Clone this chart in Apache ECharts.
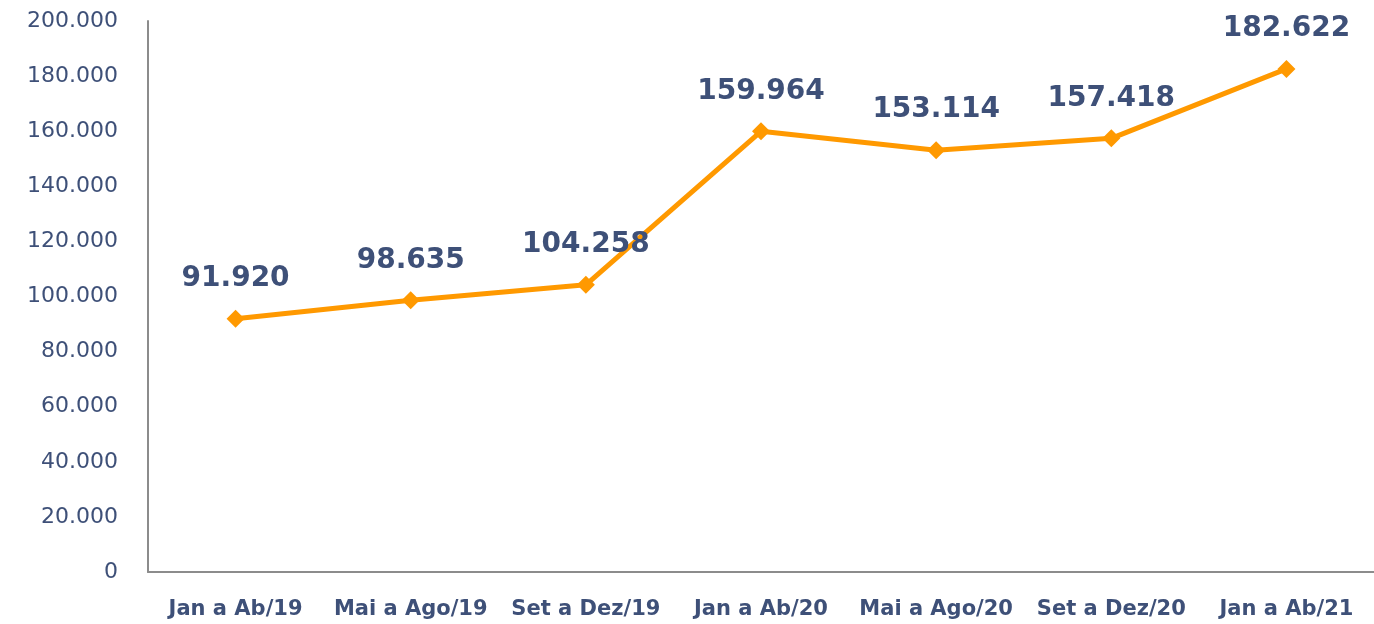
<!DOCTYPE html>
<html>
<head>
<meta charset="utf-8">
<script src="https://cdn.jsdelivr.net/npm/echarts@6/dist/echarts.min.js"></script>
<style>html,body{margin:0;padding:0;background:#fff;}#c{width:1374px;height:624px;}</style>
</head>
<body>
<div id="c"></div>
<script>
const categories = ['Jan a Ab/19','Mai a Ago/19','Set a Dez/19','Jan a Ab/20','Mai a Ago/20','Set a Dez/20','Jan a Ab/21'];
const values = [91920, 98635, 104258, 159964, 153114, 157418, 182622];
const yMin = 0, yMax = 200000, yInterval = 20000;

const fmt = v => v === 0 ? '0' : v.toLocaleString('de-DE');
const textColor = '#3E5078';
const font = 'DejaVu Sans';
const chart = echarts.init(document.getElementById('c'));
chart.setOption({
  animation: false,
  textStyle: { fontFamily: font },
  grid: { left: 148, right: 0, top: 21, bottom: 52, containLabel: false },
  xAxis: {
    type: 'category', data: categories, boundaryGap: true,
    axisLine: { lineStyle: { color: '#8C8C8C', width: 2 } },
    axisTick: { show: false },
    axisLabel: { color: textColor, fontSize: 21, fontWeight: 'bold', margin: 27, interval: 0, fontFamily: font }
  },
  yAxis: {
    type: 'value', min: yMin, max: yMax, interval: yInterval,
    axisLine: { show: true, lineStyle: { color: '#8C8C8C', width: 2 } },
    axisTick: { show: false },
    splitLine: { show: false },
    axisLabel: { color: textColor, fontSize: 22, margin: 30, formatter: fmt, fontFamily: font }
  },
  series: [{
    type: 'line', data: values,
    lineStyle: { color: '#FF9900', width: 5 },
    itemStyle: { color: '#FF9900' },
    symbol: 'diamond', symbolSize: 18,
    label: { show: true, position: 'top', distance: 17, color: textColor, fontSize: 28, fontWeight: 'bold', formatter: p => fmt(p.value), fontFamily: font }
  }]
});
</script>
</body>
</html>
